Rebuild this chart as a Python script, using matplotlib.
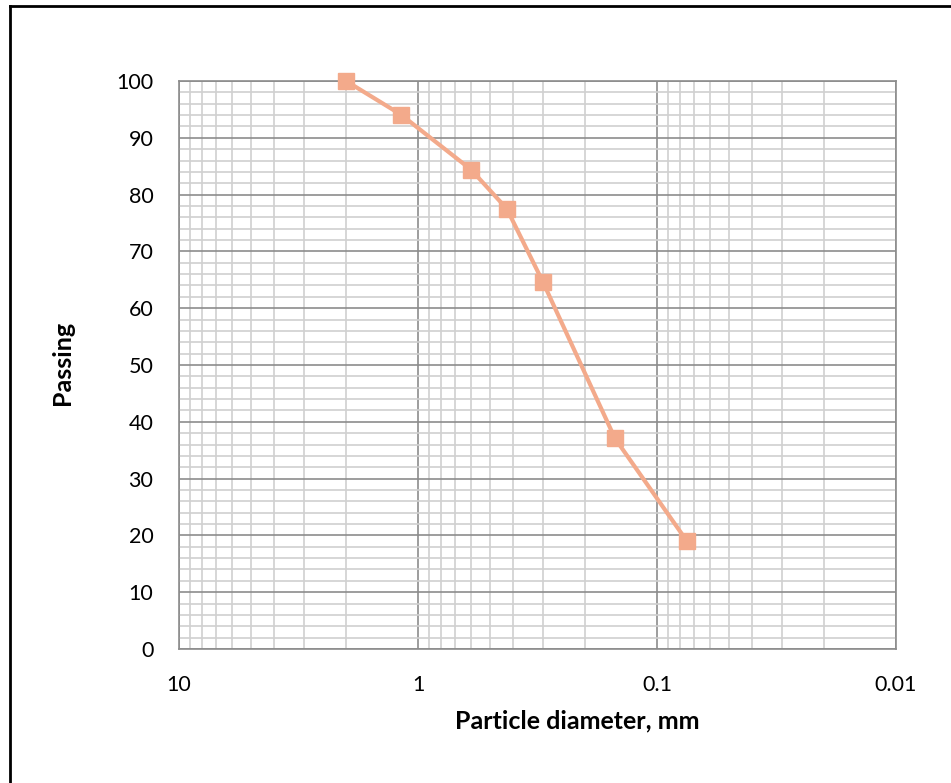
import matplotlib
matplotlib.use("Agg")
import matplotlib.pyplot as plt
from matplotlib.lines import Line2D
from matplotlib.ticker import FixedLocator, LogLocator, MultipleLocator, NullFormatter

plt.rcParams['font.family'] = ['Lato', 'DejaVu Sans']

# sieve analysis values
diameter_mm = [2.0, 1.18, 0.6, 0.425, 0.3, 0.15, 0.075]
passing = [100, 94.1, 84.4, 77.5, 64.6, 37.1, 19.0]
x_ticks = [10, 1, 0.1, 0.01]
x_tick_labels = ["10", "1", "0.1", "0.01"]

line_col = "#F3AA8B"
major_grid = "#8c8c8c"
minor_grid = "#d0d0d0"

W, H = 951, 783
fig = plt.figure(figsize=(W/100, H/100), dpi=100)
ax = fig.add_axes([179/W, 1 - 649/H, (896-179)/W, (649-81)/H])

ax.plot(diameter_mm, passing, color=line_col, lw=3, marker="s", ms=12,
        mfc=line_col, mec=line_col, zorder=3, clip_on=False)

ax.set_xscale("log")
ax.set_xlim(10, 0.01)
ax.set_ylim(0, 100)

ax.xaxis.set_major_locator(FixedLocator(x_ticks))
ax.set_xticks(x_ticks)
ax.set_xticklabels(x_tick_labels)
ax.xaxis.set_minor_locator(LogLocator(base=10, subs=range(2, 10), numticks=20))
ax.xaxis.set_minor_formatter(NullFormatter())
ax.yaxis.set_major_locator(MultipleLocator(10))
ax.yaxis.set_minor_locator(MultipleLocator(2))

ax.grid(which="minor", color=minor_grid, lw=1.2)
ax.grid(which="major", color=major_grid, lw=1.2)
ax.set_axisbelow(True)

ax.tick_params(which="both", length=0, labelsize=15.5, colors="black")
ax.tick_params(axis="x", pad=18.5)
ax.tick_params(axis="y", pad=18.5)

for s in ax.spines.values():
    s.set_color(major_grid)
    s.set_linewidth(1.2)

# axis titles placed where the reference has them
fig.text(577/W, 1 - 721/H, "Particle diameter, mm", fontsize=18, fontweight="bold",
         ha="center", va="center")
fig.text(63/W, 1 - 363/H, "Passing", fontsize=18, fontweight="bold",
         rotation=90, ha="center", va="center")

# outer frame (only left and top edges visible)
fig.add_artist(Line2D([10/W, 10/W], [0, 1 - 6/H], transform=fig.transFigure,
                      color="black", lw=2))
fig.add_artist(Line2D([10/W, 1], [1 - 6/H, 1 - 6/H], transform=fig.transFigure,
                      color="black", lw=2))

fig.savefig("out.png", dpi=100)
